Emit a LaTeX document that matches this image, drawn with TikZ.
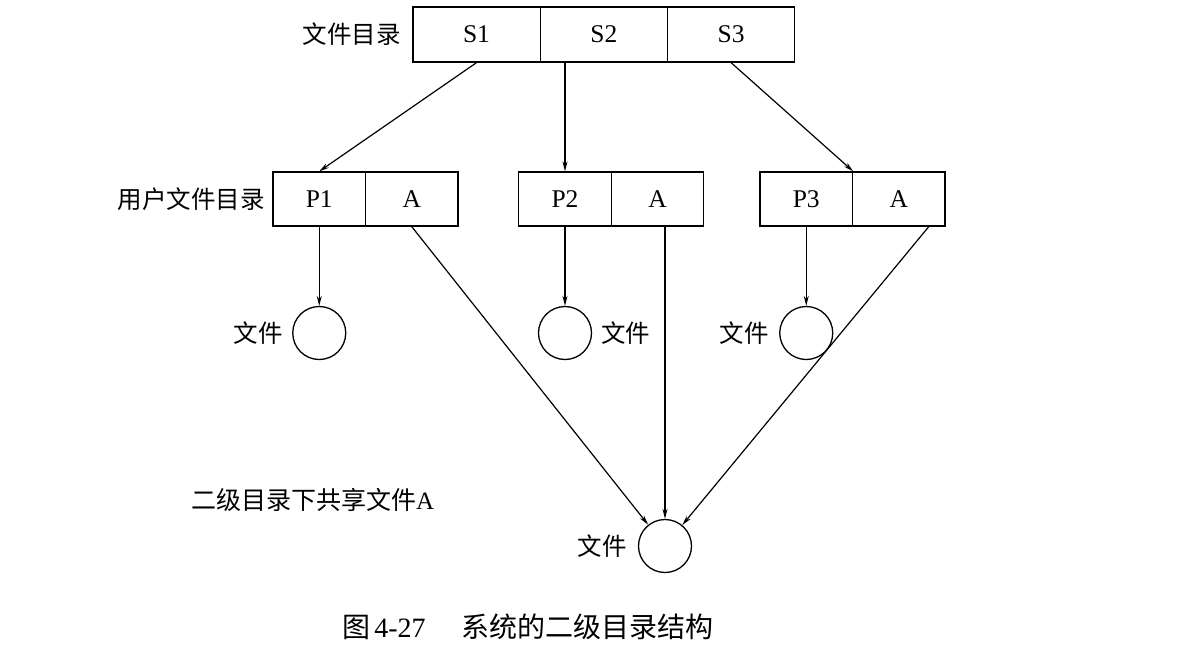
\documentclass[tikz,border=0pt]{standalone}
\usepackage{fontspec}
\setmainfont{Liberation Serif}
\newfontfamily\cjk{Noto Sans CJK SC}
\usetikzlibrary{arrows.meta,calc}
\begin{document}
\begin{tikzpicture}[x=1pt,y=-1pt,
  cell/.style={draw, line width=1.3pt, rectangle, inner sep=0pt, minimum height=54pt, font=\fontsize{25.5}{25.5}\selectfont},
  topcell/.style={cell, minimum width=127.3pt, minimum height=55pt},
  ucell/.style={cell, minimum width=92.5pt},
  file/.style={draw, circle, line width=1.3pt, minimum size=53pt, inner sep=0pt},
  lab/.style={inner sep=0pt, font=\cjk\fontsize{24.5}{25}\selectfont},
  arr/.style={line width=1.2pt, -{Stealth[length=10pt,width=5pt]}},
  ]
\useasboundingbox (0,0) rectangle (1183,648);
\fill[white] (0,0) rectangle (1183,648);

% top directory
\node[topcell] (s1) at (476.5,34.5) {S1};
\node[topcell] (s2) at (603.8,34.5) {S2};
\node[topcell] (s3) at (731.1,34.5) {S3};
\node[lab, anchor=east] (lt) at (401,34.5) {文件目录};

% user directories
\node[ucell] (p1) at (319.25,199) {P1};
\node[ucell] (a1) at (411.75,199) {A};
\node[ucell] (p2) at (565,199) {P2};
\node[ucell] (a2) at (657.5,199) {A};
\node[ucell] (p3) at (806.25,199) {P3};
\node[ucell] (a3) at (898.75,199) {A};
\node[lab, anchor=east] (lu) at (265,199) {用户文件目录};

% files
\node[file] (f1) at (319.25,333) {};
\node[file] (f2) at (565,333) {};
\node[file] (f3) at (806.25,333) {};
\node[file] (fs) at (665,546) {};
\node[lab, anchor=east] (l1) at ([xshift=-9pt]f1.west) {文件};
\node[lab, anchor=west] (l2) at ([xshift=9pt]f2.east) {文件};
\node[lab, anchor=east] (l3) at ([xshift=-10pt]f3.west) {文件};
\node[lab, anchor=east] (ls) at ([xshift=-11pt]fs.west) {文件};

\node[lab, anchor=west, font=\cjk\fontsize{25}{25}\selectfont] (share) at (191,500) {二级目录下共享文件\textrm{A}};
\node[inner sep=0pt, font=\fontsize{28}{28}\selectfont] (cap) at (528,627)
  {{\cjk 图}\hspace{4pt}4-27\hspace{36pt}{\cjk 系统的二级目录结构}};

% connectors
\draw[arr] (s1.south) -- (p1.north);
\draw[arr] (p2.north |- s2.south) -- (p2.north);
\draw[arr] (s3.south) -- (p3.north east);

\draw[arr] (p1.south) -- (f1.north);
\draw[arr] (p2.south) -- (f2.north);
\draw[arr] (p3.south) -- (f3.north);

\coordinate (a3s) at ([xshift=30pt]a3.south);
\draw[arr] (a1.south) -- (fs);
\draw[arr] (fs.north |- a2.south) -- (fs.north);
\draw[arr] (a3s) -- (fs);
\end{tikzpicture}
\end{document}
